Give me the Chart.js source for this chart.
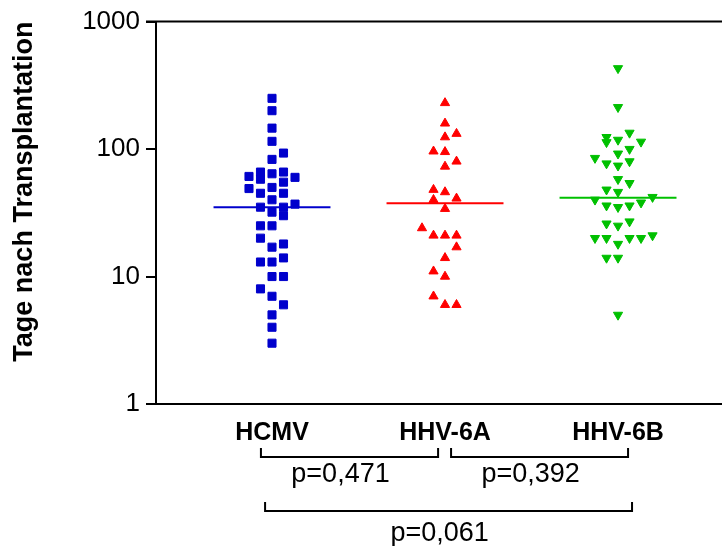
<!DOCTYPE html>
<html>
<head>
<meta charset="utf-8">
<script src="https://cdn.jsdelivr.net/npm/chart.js@4"></script>
<style>
  body { margin: 0; background: #fff; }
  #wrap { width: 722px; height: 546px; position: relative; }
</style>
</head>
<body>
<div id="wrap"><canvas id="grafico"></canvas></div>
<script>
const kategorien = ['HCMV', 'HHV-6A', 'HHV-6B'];
const yTicks = [1, 10, 100, 1000];

// Tage nach Transplantation, Spalte = seitlicher Versatz im Dot-Plot
const hcmvTage   = [250, 200, 146, 115, 93, 83, 66, 58, 61, 64, 66, 60, 55, 49, 50, 45, 45, 40, 35, 37, 32, 35, 30, 25, 25, 20, 17, 18, 13, 13, 14, 10, 10, 8, 7, 6, 5, 4, 3];
const hcmvSpalte = [0, 0, 0, 0, 1, 0, -1, -1, -2, 0, 1, 2, 1, -2, 0, -1, 1, 0, -1, 2, 0, 1, 1, -1, 0, -1, 0, 1, -1, 0, 1, 0, 1, -1, 0, 1, 0, 0, 0];

const hhv6aTage   = [230, 159, 132, 124, 96, 95, 80, 73, 48, 46, 40, 41, 34, 24, 21, 21, 21, 17, 14, 11, 10, 7, 6, 6];
const hhv6aSpalte = [0, 0, 1, 0, -1, 0, 1, 0, -1, 0, -1, 1, 0, -2, -1, 0, 1, 1, 0, -1, 0, -1, 0, 1];

const hhv6bTage   = [430, 213, 134, 124, 113, 118, 114, 100, 92, 85, 77, 74, 80, 58, 54, 48, 46, 40, 42, 38, 36, 35, 36, 26, 25, 27, 20, 20, 18, 20, 20, 21, 14, 14, 5];
const hhv6bSpalte = [0, 0, 1, -1, -1, 0, 2, 1, 0, -2, -1, 0, 1, 0, 1, -1, 0, -2, 3, 2, -1, 0, 1, -1, 0, 1, -2, -1, 0, 1, 2, 3, -1, 0, 0];

const mediane = [35, 37.5, 41.5];

// Vergleiche (Klammern unter der Achse)
const vergleichVon = [0.936, 2.035, 0.960];
const vergleichBis = [1.960, 3.058, 3.081];
const pWerte = ['p=0,471', 'p=0,392', 'p=0,061'];

const farben = ['#0000CC', '#FF0000', '#00C000'];
const schrift = 'Arial, "Liberation Sans", sans-serif';

function punkte(tage, spalte, k) {
    return tage.map((v, i) => ({ x: k + 1 + spalte[i] * 0.0665, y: v }));
}

function medianLinie(k) {
    return [{ x: k + 1 - 0.338, y: mediane[k] }, { x: k + 1 + 0.338, y: mediane[k] }];
}

const klammern = {
    id: 'klammern',
    afterDraw(chart) {
        const ctx = chart.ctx;
        const xs = chart.scales.x;
        const area = chart.chartArea;
        ctx.save();
        ctx.strokeStyle = '#000';
        ctx.lineWidth = 2;

        // obere Rahmenlinie
        ctx.beginPath();
        ctx.moveTo(area.left - 10, area.top);
        ctx.lineTo(area.right, area.top);
        ctx.stroke();

        const ebenen = [[448, 457, 475], [448, 457, 475], [502, 511, 534]];
        ctx.fillStyle = '#000';
        ctx.font = '27px ' + schrift;
        ctx.textAlign = 'center';
        ctx.textBaseline = 'middle';
        pWerte.forEach((p, i) => {
            const x1 = xs.getPixelForValue(vergleichVon[i]);
            const x2 = xs.getPixelForValue(vergleichBis[i]);
            const [oben, unten, textY] = ebenen[i];
            ctx.beginPath();
            ctx.moveTo(x1, oben);
            ctx.lineTo(x1, unten);
            ctx.lineTo(x2, unten);
            ctx.lineTo(x2, oben);
            ctx.stroke();
            ctx.fillText(p, (x1 + x2) / 2 - 9, textY);
        });
        ctx.restore();
    }
};

new Chart(document.getElementById('grafico'), {
    type: 'scatter',
    data: {
        datasets: [
            {
                data: punkte(hcmvTage, hcmvSpalte, 0),
                backgroundColor: farben[0], borderColor: farben[0], borderWidth: 1,
                pointStyle: 'rect', pointRadius: 5.7, pointHoverRadius: 5.7
            },
            {
                data: punkte(hhv6aTage, hhv6aSpalte, 1),
                backgroundColor: farben[1], borderColor: farben[1], borderWidth: 1,
                pointStyle: 'triangle', pointRadius: 5.3, pointHoverRadius: 5.3
            },
            {
                data: punkte(hhv6bTage, hhv6bSpalte, 2),
                backgroundColor: farben[2], borderColor: farben[2], borderWidth: 1,
                pointStyle: 'triangle', rotation: 180, pointRadius: 5.3, pointHoverRadius: 5.3
            },
            ...[0, 1, 2].map(k => ({
                type: 'line',
                data: medianLinie(k),
                borderColor: farben[k],
                borderWidth: 2,
                pointRadius: 0,
                fill: false
            }))
        ]
    },
    options: {
        responsive: true,
        maintainAspectRatio: false,
        animation: false,
        layout: { autoPadding: false, padding: { top: 20, right: 0, left: 0, bottom: 0 } },
        plugins: { legend: { display: false }, tooltip: { enabled: false } },
        scales: {
            x: {
                type: 'linear',
                min: 0.3295,
                max: 3.601,
                afterBuildTicks: s => { s.ticks = [1, 2, 3].map(v => ({ value: v })); },
                afterFit: s => { s.height = 142; },
                ticks: {
                    callback: v => kategorien[v - 1],
                    color: '#000',
                    font: { family: schrift, size: 25, weight: 'bold' },
                    padding: 6,
                    maxRotation: 0
                },
                grid: { display: false },
                border: { display: true, color: '#000', width: 2 }
            },
            y: {
                type: 'logarithmic',
                min: 1,
                max: 1000,
                afterBuildTicks: s => { s.ticks = yTicks.map(v => ({ value: v })); },
                afterFit: s => { s.width = 156; },
                ticks: {
                    callback: v => String(v),
                    color: '#000',
                    font: { family: schrift, size: 26 },
                    padding: 6
                },
                grid: { drawOnChartArea: false, drawTicks: true, tickLength: 10, color: '#000', lineWidth: 2 },
                border: { display: true, color: '#000', width: 2 },
                title: {
                    display: true,
                    text: 'Tage nach Transplantation',
                    align: 'end',
                    color: '#000',
                    font: { family: schrift, size: 27, weight: 'bold' },
                    padding: { top: 8, bottom: 0 }
                }
            }
        }
    },
    plugins: [klammern]
});
</script>
</body>
</html>
